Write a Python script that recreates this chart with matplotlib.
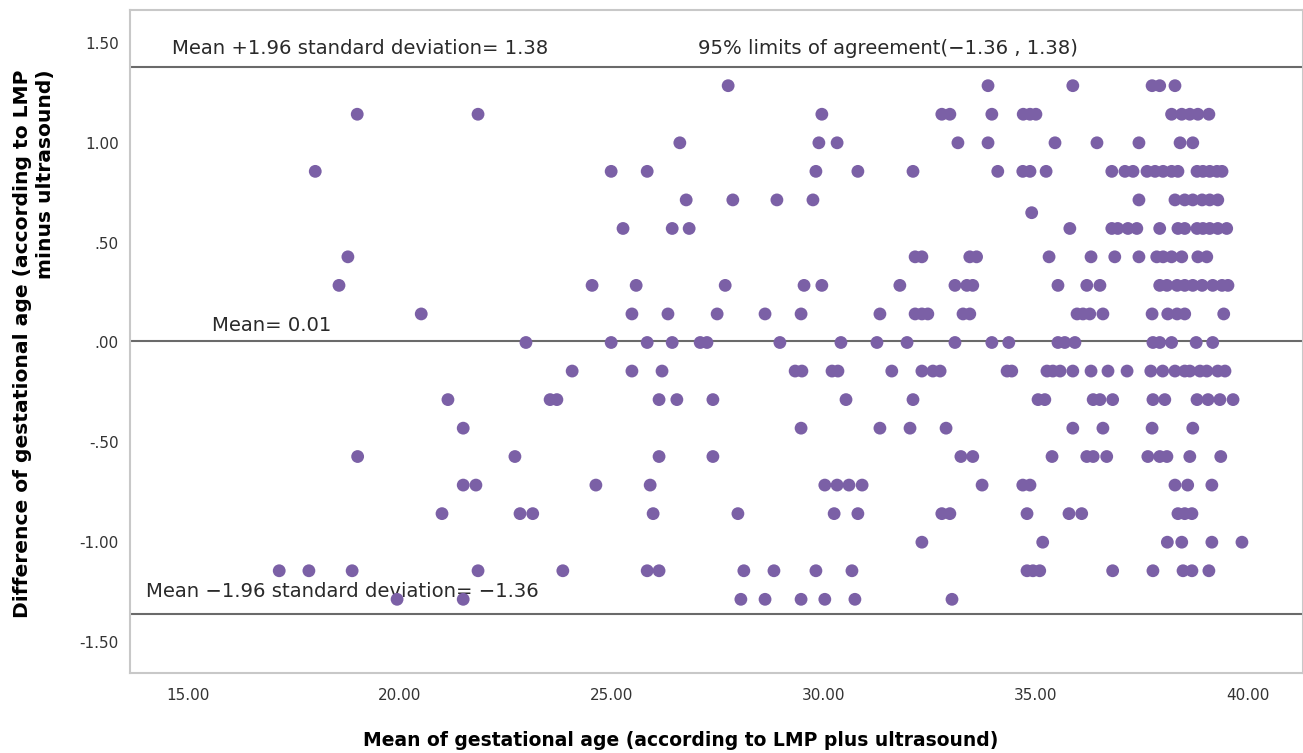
import numpy as np
import matplotlib
matplotlib.use("Agg")
import matplotlib.pyplot as plt
from matplotlib.ticker import FuncFormatter

# difference levels (weeks) and the mean GA of each point sitting on that level
diff_levels = [1.286, 1.143, 1.000, 0.857, 0.714, 0.650, 0.571, 0.429, 0.286, 0.143, 0.000,
               -0.143, -0.286, -0.429, -0.571, -0.714, -0.857, -1.000, -1.143, -1.286]

x_p129 = [27.74, 33.87, 35.87, 37.74, 37.92, 38.28]
x_p114 = [18.99, 21.84, 29.95, 32.78, 32.97, 33.96, 34.70, 34.86, 35.00, 38.20, 38.44, 38.63, 38.82, 39.08]
x_p100 = [26.60, 29.88, 30.31, 33.16, 33.87, 35.45, 36.44, 37.43, 38.40, 38.70]
x_p086 = [18.00, 24.98, 25.83, 29.81, 30.80, 32.10, 34.10, 34.69, 34.86, 35.24, 36.79, 37.10, 37.29,
          37.62, 37.81, 38.00, 38.20, 38.35, 38.80, 38.94, 39.10, 39.27, 39.39]
x_p071 = [26.75, 27.85, 28.89, 29.74, 37.43, 38.28, 38.51, 38.70, 38.92, 39.10, 39.29]
x_p065 = [34.90]
x_p057 = [25.26, 26.42, 26.82, 35.80, 36.79, 36.93, 37.17, 37.38, 37.92, 38.35, 38.51, 38.80, 38.94,
          39.10, 39.29, 39.50]
x_p043 = [18.77, 32.15, 32.31, 33.44, 33.60, 35.31, 36.30, 36.86, 37.43, 37.85, 38.00, 38.20, 38.44,
          38.82, 39.03]
x_p029 = [18.56, 24.53, 25.57, 27.67, 29.53, 29.95, 31.79, 33.09, 33.37, 33.51, 35.52, 36.20, 36.51,
          37.92, 38.09, 38.33, 38.51, 38.70, 38.92, 39.17, 39.39, 39.53]
x_p014 = [20.50, 25.47, 26.32, 27.48, 28.61, 29.46, 31.32, 32.15, 32.31, 32.45, 33.28, 33.44, 35.97,
          36.11, 36.27, 36.58, 37.74, 38.11, 38.33, 38.51, 39.43]
x_000 = [22.97, 24.98, 25.83, 26.42, 27.08, 27.24, 28.96, 30.40, 31.25, 31.96, 33.09, 33.96, 34.36,
         35.52, 35.68, 35.92, 37.76, 37.92, 38.20, 38.78, 39.17]
x_m014 = [24.06, 25.47, 26.18, 29.32, 29.48, 30.19, 30.33, 31.60, 32.31, 32.57, 32.74, 34.32, 34.43,
          35.26, 35.40, 35.57, 35.87, 36.30, 36.70, 37.15, 37.71, 37.99, 38.28, 38.51, 38.63, 38.87,
          39.03, 39.29, 39.46]
x_m029 = [21.13, 23.54, 23.70, 26.11, 26.53, 27.38, 30.52, 32.10, 35.05, 35.21, 36.35, 36.51, 36.81,
          37.76, 38.04, 38.80, 39.06, 39.34, 39.65]
x_m043 = [21.49, 29.46, 31.32, 32.03, 32.88, 35.87, 36.58, 37.74, 38.70]
x_m057 = [19.00, 22.71, 26.11, 27.38, 33.23, 33.51, 35.38, 36.20, 36.35, 36.67, 37.64, 37.92, 38.09,
          38.63, 39.36]
x_m071 = [21.49, 21.79, 24.62, 25.90, 30.02, 30.31, 30.59, 30.90, 33.73, 34.69, 34.86, 38.28, 38.58, 39.15]
x_m086 = [20.99, 22.83, 23.13, 25.97, 27.97, 30.24, 30.80, 32.78, 32.97, 34.79, 35.78, 36.08, 38.35,
          38.51, 38.68]
x_m100 = [32.31, 35.16, 38.10, 38.44, 39.15, 39.86]
x_m114 = [17.15, 17.85, 18.87, 21.84, 23.84, 25.83, 26.11, 28.11, 28.82, 29.81, 30.66, 34.79, 34.93,
          35.09, 36.81, 37.76, 38.47, 38.68, 39.08]
x_m129 = [19.93, 21.49, 28.04, 28.61, 29.46, 30.02, 30.73, 33.02]

rows = [x_p129, x_p114, x_p100, x_p086, x_p071, x_p065, x_p057, x_p043, x_p029, x_p014, x_000,
        x_m014, x_m029, x_m043, x_m057, x_m071, x_m086, x_m100, x_m114, x_m129]

mean_diff = 0.01
upper_loa = 1.38
lower_loa = -1.36

x_ticks = [15, 20, 25, 30, 35, 40]
y_ticks = [-1.5, -1.0, -0.5, 0.0, 0.5, 1.0, 1.5]

xs = []
ys = []
for lvl, row in zip(diff_levels, rows):
    for v in row:
        xs.append(v)
        ys.append(lvl)

plt.rcParams['font.family'] = ['DejaVu Sans']

fig = plt.figure(figsize=(13.03, 7.53), dpi=100)
ax = fig.add_axes([130/1303, 1 - 673/753, 1173/1303, 663/753])

line_col = '#6a6a6a'
ax.axhline(upper_loa, color=line_col, lw=1.5, zorder=1)
ax.axhline(mean_diff, color=line_col, lw=1.5, zorder=1)
ax.axhline(lower_loa, color=line_col, lw=1.5, zorder=1)

ax.scatter(xs, ys, s=85, color='#7b60a6', edgecolors='none', zorder=3)

txt = dict(fontsize=14.1, color='#2a2a2a', va='center', ha='left', zorder=2)
ax.text(14.62, 1.47, "Mean +1.96 standard deviation= 1.38", **txt)
ax.text(27.03, 1.47, "95% limits of agreement(\u22121.36 , 1.38)", **txt)
ax.text(15.57, 0.085, "Mean= 0.01", **txt)
ax.text(14.0, -1.245, "Mean \u22121.96 standard deviation= \u22121.36", **txt)

ax.set_xlim(13.63, 41.3)
ax.set_ylim(-1.655, 1.665)
ax.set_xticks(x_ticks)
ax.set_yticks(y_ticks)

def fmt_y(v, pos):
    s = "%.2f" % v
    if s.startswith("0."):
        s = s[1:]
    elif s.startswith("-0."):
        s = "-" + s[2:]
    return s

ax.xaxis.set_major_formatter(FuncFormatter(lambda v, pos: "%.2f" % v))
ax.yaxis.set_major_formatter(FuncFormatter(fmt_y))
ax.tick_params(axis='both', length=0, labelsize=11, colors='#333333')
ax.tick_params(axis='x', pad=11)
ax.tick_params(axis='y', pad=8)

for sp in ax.spines.values():
    sp.set_color('#c8c8c8')
    sp.set_linewidth(1.5)

fig.text(681/1303, 1 - 740/753, "Mean of gestational age (according to LMP plus ultrasound)",
         fontsize=13.5, fontweight='bold', ha='center', va='center')
fig.text(34/1303, 1 - 344/753, "Difference of gestational age (according to LMP\nminus ultrasound)",
         fontsize=14.6, fontweight='bold', ha='center', va='center', rotation=90,
         multialignment='right')

fig.savefig("out.png", dpi=100)
